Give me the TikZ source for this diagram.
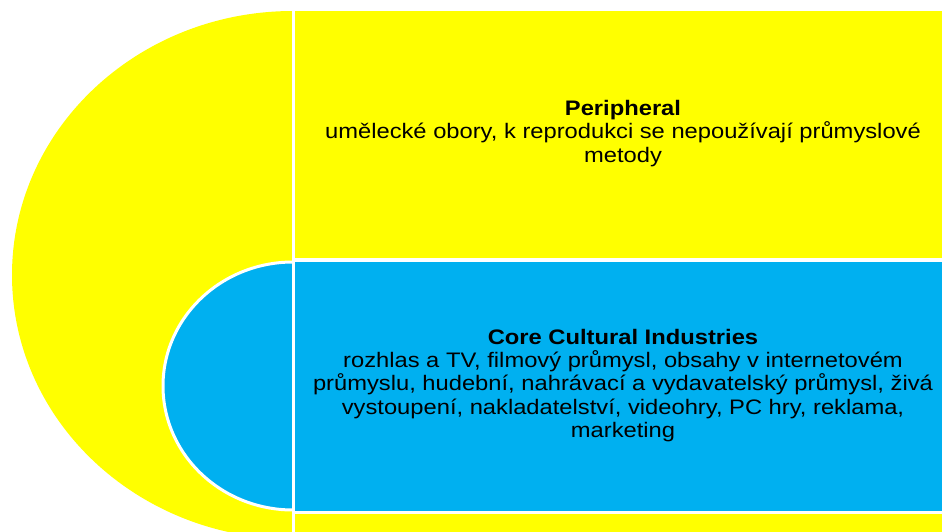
\documentclass[tikz,border=0pt]{standalone}
\usepackage{fontspec}
\setmainfont{Liberation Sans}[FakeStretch=1.13]
\definecolor{cyellow}{RGB}{255,255,0}
\definecolor{cblue}{RGB}{0,176,240}
\begin{document}
\begin{tikzpicture}[x=1pt,y=-1pt,
  txt/.style={align=center, inner sep=0pt, text=black, font=\fontsize{21}{23.3}\selectfont},
  sep/.style={white, line width=3pt}]
\fill[white] (0,0) rectangle (942,532);
\useasboundingbox (0,0) rectangle (942,532);
\begin{scope}
  \clip (0,0) rectangle (293,532);
  \fill[cyellow] (293,275) ellipse [x radius=281, y radius=264];
  \fill[cblue] (293,386) ellipse [x radius=130, y radius=124];
  \draw[sep] (293,386) ellipse [x radius=130, y radius=124];
\end{scope}
\fill[cyellow] (293,11) rectangle (942,258);
\fill[cblue] (293,262) rectangle (942,511);
\fill[cyellow] (293,514) rectangle (942,532);
\draw[sep] (293,0) -- (293,532);
\node[txt] (periph) at (623,133.5) {\textbf{Peripheral}\\umělecké obory, k reprodukci se nepoužívají průmyslové\\metody};
\node[txt] (core) at (623,385.5) {\textbf{Core Cultural Industries}\\rozhlas a TV, filmový průmysl, obsahy v internetovém\\průmyslu, hudební, nahrávací a vydavatelský průmysl, živá\\vystoupení, nakladatelství, videohry, PC hry, reklama,\\marketing};
\end{tikzpicture}
\end{document}
